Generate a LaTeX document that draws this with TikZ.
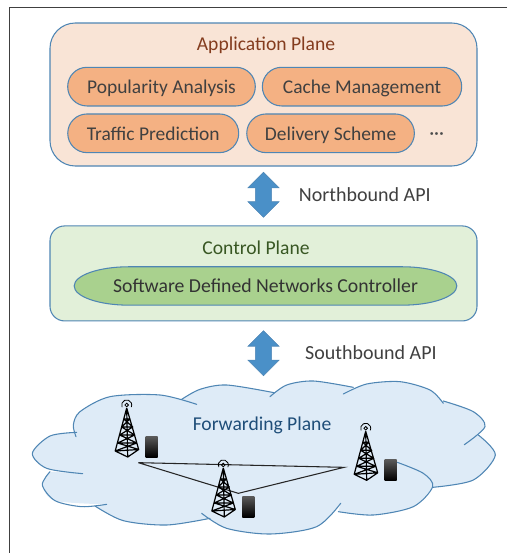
\documentclass[tikz,border=0pt]{standalone}
\usepackage{fontspec}
\setmainfont{Carlito}
\usetikzlibrary{positioning,shapes.arrows}
\usepackage{xcolor}
\definecolor{edgeblue}{HTML}{4F86B4}
\definecolor{apparrow}{HTML}{4A90C8}
\definecolor{appitemfill}{HTML}{F4B183}
\definecolor{appfill}{HTML}{F9E4D6}
\definecolor{apptext}{HTML}{843C1E}
\definecolor{controlfill}{HTML}{E2F0D9}
\definecolor{controltext}{HTML}{385723}
\definecolor{controllerfill}{HTML}{A9D18E}
\definecolor{cloudfill}{HTML}{DEEBF7}
\definecolor{cloudtext}{HTML}{1F4E79}

\begin{document}
\begin{tikzpicture}%
    [x=0.75pt,
    y=-0.75pt,
    node distance=2cm,
    on grid,
    plane/.style={draw=edgeblue, thick, inner sep=0pt},
    appitem/.style={draw=edgeblue, thick, fill=appitemfill, rounded corners=14.4pt, minimum height=29pt, inner sep=0pt, text height=13.5pt, text depth=3pt, font=\fontsize{14.6}{18}\selectfont, text=black!75},
    planetitle/.style={inner sep=0pt, text height=13pt, text depth=3pt, font=\fontsize{14.7}{17}\selectfont},
    apilabel/.style={inner sep=0pt, text height=12.5pt, text depth=3pt, font=\fontsize{15}{17}\selectfont, text=black!75},
    updown/.style={double arrow, draw=edgeblue, fill=apparrow, minimum height=33.8pt, minimum width=23pt, double arrow head extend=5.6pt, inner sep=5.9pt, shape border rotate=90},
    cloudline/.style={draw=edgeblue, thick, line cap=round},
    tower/.pic={
      \draw[black, line width=0.9pt, line join=round]
        (0,3) -- (-11.5,46) -- (1,52) -- (12,44.5) -- (0,3)
        (0,3) -- (1,52)
        (-3,14) -- (3,14) (-5,22) -- (6,22) (-7,30) -- (8,30) (-9,38) -- (10,38)
        (-3,14) -- (6,22) -- (-7,30) -- (10,38) -- (-11.5,46)
        (3,14) -- (-5,22) -- (8,30) -- (-9,38) -- (12,44.5)
        (-11.5,46) -- (12,44.5);
      \draw[black, line width=0.6pt] (0,0) circle (1.8)
        (-4.6,2.1) arc (205:-25:3.8pt);
    },
    device/.pic={
      \shade[top color=black!65, bottom color=black] (19,31.5) rectangle (31,52);
    }
    ]
    \useasboundingbox (0,0) rectangle (507,553);

    \coordinate (framecorner) at (9.5,7.5);
    \coordinate (frametop) at (507,7.5);
    \coordinate (framebottom) at (9.5,553);
    \draw[black!75, line width=0.8pt] (frametop) -- (framecorner) -- (framebottom);

    \node[plane, rounded corners=19pt, fill=appfill, minimum width=320.25pt, minimum height=107.25pt] (app) at (263.5,94.5) {};
    \node[planetitle, text=apptext] (apptitle) [above right=37.9pt and 1.9pt of app] {Application Plane};
    \node[appitem, minimum width=140.7pt] (popularity) [above left=5.9pt and 76.5pt of app] {Popularity Analysis};
    \node[appitem, minimum width=149.5pt] (cache) [right=150.4pt of popularity] {Cache Management};
    \node[appitem, minimum width=128.2pt] (traffic) [below left=35pt and 6.2pt of popularity] {Traffic Prediction};
    \node[appitem, minimum width=125.7pt] (delivery) [right=133pt of traffic] {Delivery Scheme};
    \node[planetitle, text=black!70] (more) [right=79.6pt of delivery] {···};

    \node[updown] (northarrow) [below=75.2pt of app] {};
    \node[apilabel] (northlabel) [right=76pt of northarrow] {Northbound API};

    \node[plane, rounded corners=11pt, fill=controlfill, minimum width=320.25pt, minimum height=71.25pt] (control) [below=59pt of northarrow] {};
    \node[planetitle, text=controltext] (controltitle) [above left=19.1pt and 5.6pt of control] {Control Plane};
    \node[coordinate] (controllerbody) [below right=9.4pt and 1.5pt of control] {};
    \draw[edgeblue, thick, fill=controllerfill] ([shift={(-102.5pt,14.4pt)}]controllerbody) arc (90:270:41pt and 14.4pt) -- ++(205pt,0pt) arc (-90:90:41pt and 14.4pt) -- cycle;
    \node[inner sep=0pt, text height=13pt, text depth=3pt, font=\fontsize{14.8}{17}\selectfont, text=black!80] (controller) at (controllerbody) {Software Defined Networks Controller};

    \node[updown] (southarrow) [below=59.8pt of control] {};
    \node[apilabel] (southlabel) [right=80.6pt of southarrow] {Southbound API};

    \begin{scope}[shift={(0,370)}, x=0.25pt, y=-0.25pt]
      % cloud body first, then its open arcs
      \fill[cloudfill]
        plot[smooth] coordinates {(228,187) (150,198) (97,250) (140,295) (248,311)}
        -- (150,305) -- plot[smooth] coordinates {(150,305) (127,345) (165,392) (320,403)}
        -- (285,408) -- plot[smooth] coordinates {(285,408) (370,452) (500,465) (630,445)}
        -- (605,430) -- plot[smooth] coordinates {(605,430) (680,475) (810,492) (950,470) (1022,400)}
        -- (1015,425) -- plot[smooth] coordinates {(1015,425) (1120,435) (1240,410) (1298,350)}
        -- plot[smooth] coordinates {(1298,352) (1420,330) (1486,255) (1435,195)}
        -- (1393,224) -- plot[smooth] coordinates {(1393,224) (1455,170) (1420,125) (1330,93)}
        -- plot[smooth] coordinates {(1330,100) (1290,60) (1200,35) (1100,42) (1030,72)}
        -- (1060,52) -- plot[smooth] coordinates {(1060,52) (940,33) (860,45) (810,80)}
        -- plot[smooth] coordinates {(822,68) (680,45) (600,58) (545,88)}
        -- (590,103) -- plot[smooth] coordinates {(590,103) (480,75) (330,80) (240,125) (220,165) (228,200)}
        -- cycle;
      \draw[cloudline] plot[smooth] coordinates {(230,187) (150,198) (97,250) (140,295) (248,311)};
      \draw[cloudline] plot[smooth] coordinates {(150,305) (127,345) (165,392) (245,410) (320,403)};
      \draw[cloudline] plot[smooth] coordinates {(285,408) (370,452) (500,465) (630,445)};
      \draw[cloudline] plot[smooth] coordinates {(605,430) (680,475) (810,492) (950,470) (1022,400)};
      \draw[cloudline] plot[smooth] coordinates {(1015,425) (1120,435) (1240,410) (1298,350) (1270,310) (1192,277)};
      \draw[cloudline] plot[smooth] coordinates {(1298,352) (1420,330) (1486,255) (1435,195)};
      \draw[cloudline] plot[smooth] coordinates {(1393,224) (1455,170) (1420,125) (1330,93)};
      \draw[cloudline] plot[smooth] coordinates {(1330,100) (1290,60) (1200,35) (1100,42) (1030,72)};
      \draw[cloudline] plot[smooth] coordinates {(1060,52) (940,33) (860,45) (810,80)};
      \draw[cloudline] plot[smooth] coordinates {(822,68) (680,45) (600,58) (545,88)};
      \draw[cloudline] plot[smooth] coordinates {(590,103) (480,75) (330,80) (240,125) (220,165) (228,200)};

      \coordinate (linkleft) at (415,278);
      \coordinate (linkright) at (1032,292);
      \coordinate (linkmid) at (715,370);
      \draw[black!85, line width=0.8pt] (linkleft) -- (linkright) -- (linkmid) -- (linkleft);
    \end{scope}

    \node[planetitle, text=cloudtext] (forwardtitle) [below left=53.1pt and 1.1pt of southarrow] {Forwarding Plane};

    \pic at (126.7,405) {tower};
    \pic at (126.7,405) {device};
    \pic at (223.3,465) {tower};
    \pic at (223.3,465) {device};
    \pic at (365.7,428.3) {tower};
    \pic at (365.7,428.3) {device};
\end{tikzpicture}
\end{document}
